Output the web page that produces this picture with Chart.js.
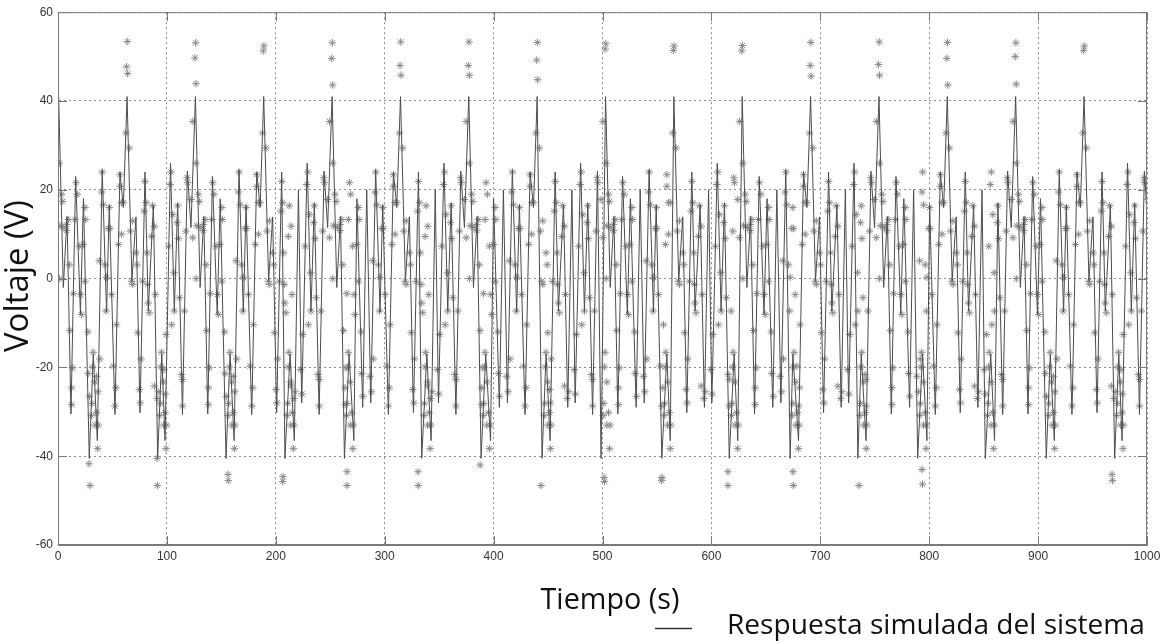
<!DOCTYPE html>
<html>
<head>
<meta charset="utf-8">
<title>Respuesta simulada del sistema</title>
<script src="https://cdn.jsdelivr.net/npm/chart.js@4.4.1/dist/chart.umd.min.js"></script>
<style>
  html, body { margin: 0; padding: 0; background: #fff; }
  #wrap { width: 1166px; height: 643px; }
</style>
</head>
<body>
<div id="wrap"><canvas id="chart" width="1166" height="643"></canvas></div>
<script>
// ---- data ----
// times (s) of the big +41 V spikes (one per cycle of the response)
const peakTimes = [0.6, 63.4, 126.2, 188.9, 251.7, 314.5, 377.2, 440, 502.8, 565.5, 628.3, 691.1, 753.9, 816.6, 879.4, 942.2];

// simulated response inside one cycle: turning points (peak, trough, peak, ...),
// offset from the spike (s) and value (V); two neighbouring cycles were read, they alternate
const cycleA_t = [0, 4.3, 7.7, 11.3, 15.6, 20, 22.8, 28.1, 31.8, 35.5, 40, 44, 46.5, 51.7, 56.3, 59.4];
const cycleA_v = [41, -2, 14, -30.5, 23, -8, 18, -29, 20, -28, 24.5, -7.5, 16.6, -30.6, 24, 16];
const cycleB_t = [0, 4.5, 8.2, 11.9, 16.5, 19.5, 24.2, 28.1, 31.9, 34.9, 39.9, 43.4, 46.5, 50.9, 55.4, 58.7];
const cycleB_v = [41, -0.5, 13.9, -30.2, 24, -7.3, 16.6, -29, 20, -28, 26, -7.3, 17, -30.6, 24.2, 11.5];

// the deep "W" dips drift through the cycles: times (s) of the -40 V troughs
const dipTimes = [28.5, 90.9, 156.1, 206.6, 265.4, 330.6, 387.6, 443.5, 501.4, 554.6, 615.2, 674.9, 735.5, 793.4, 851.2, 910.9, 967.9];
const dipShape = [-40.5, -17, -36.5];   // trough, middle peak, second trough (V)

// measured samples (*) inside a cycle, same offsets as the cycles
const starsA_t = [-2.4, 0.5, 0.6, 1.2, 2.7, 3.7, 4.9, 7.3, 7.3, 8.9, 9.8, 10.4, 11.9, 11.9, 12.9, 13.5, 15, 15.9, 17.1, 18.9, 20.2, 21.1, 22.6, 24.2, 24.8, 24.2, 26.8, 27.2, 28.3, 34.8, 36.1, 37.3, 37.9, 39.5, 40.1, 41, 42.5, 43.5, 44, 45.6, 46.5, 47.1, 48.6, 50.2, 51.7, 52.6, 53.2, 55, 56.3, 56.3, 57.8, 57.8, 59.4];
const starsA_v = [35.4, 26, 0, 11.9, 19, 17.4, 11.5, 10.8, 12.2, 13.3, 3.1, -11.7, -24.6, -28.4, -20.1, -3.4, 13.3, 21.6, 19, 7.3, -3.6, -8.1, 7.7, 16, 13.3, -0.6, -12, -21.4, -26.5, -22, -25.5, 4, -18.1, 19.5, 24, 16.6, 3.1, -7.3, 0.3, 11.3, 16, 11.3, -3.6, -19.7, -28.7, -24.6, -10.4, 7.7, 23.4, 20.8, 17.1, 10, 17.1];
const starsB_t = [-1, 2.1, 3, 4.2, 5.2, 5.2, 8.2, 9.2, 9.8, 11.3, 12.2, 12.8, 14.3, 15.8, 16.5, 17.4, 18.3, 18.9, 19.5, 20.4, 22.6, 23.5, 25.1, 25.1, 26, 27.6, 28.6, 33.9, 35.2, 35.9, 38.1, 39.5, 40.4, 41, 41.9, 43.1, 43.4, 45.9, 46.5, 47.1, 48.1, 49.9, 50.9, 50.9, 52.6, 54.1, 55.1, 55.7, 58.7, 60.3];
const starsB_v = [32.8, 29.4, 10.7, -0.6, 13, -1.3, 5.8, 3.1, -12.2, -25, -28, -18.1, -0.6, 15.2, 21.9, 17.1, 5.8, -1.3, -5.5, -7.7, 9.5, 16.4, 11.8, -24.2, -3.6, -27, -25.5, -20.5, -26, -12.6, 7.3, 21.2, 24, -10.4, 14.4, 1.3, -7.3, 12.6, 16.4, 9, -4.3, -21.6, -22.7, -28.7, -7.3, 10.7, 22.7, 21.6, 17.8, 9.2];

// samples around each deep dip, offset from the -40 V trough (s)
const dipStars_t = [2, 2.5, 3, 3.6, 5.3, 5.3, 6.8, 7.7, 8.3];
const dipStars_v = [-30.8, -28.1, -19.9, -16.6, -23.3, -33, -30.2, -38.3, -33];

// samples below the deep dips (time s, value V)
const lowStars_t = [28.5, 29.4, 90.9, 91.2, 156.1, 156.4, 206.6, 206.3, 265.4, 265.4, 330.6, 330.8, 387.6, 443.5, 501.4, 501.8, 554.6, 554.3, 615.2, 615.2, 674.9, 675.2, 735.5, 793.4, 793.8, 967.9, 968.3];
const lowStars_v = [-41.7, -46.6, -40.5, -46.6, -44.1, -45.5, -44.6, -45.7, -43.5, -46.6, -43.5, -46.6, -42, -46.6, -44.8, -45.7, -44.8, -45.5, -43.5, -46.6, -43.5, -46.6, -46.6, -43, -46.3, -44.1, -45.5];

// samples sitting above each spike (V), one list per spike
const topStars = [[], [53.4, 47.7, 46.2], [53.1, 49.7, 43.9], [52.4, 51.3], [53.1, 49.6, 43.6], [53.3, 48, 45.8], [53.3, 48, 45.8], [53.2, 49.2, 44.8], [52.9, 51.7], [52.4, 51.4], [52.5, 51.3], [53.2, 48, 45.6], [53.3, 48.2, 45.8], [53.2, 49.6, 43.6], [53.1, 50, 43.8], [52.4, 51.4]];

const xTicks = [0, 100, 200, 300, 400, 500, 600, 700, 800, 900, 1000];
const yTicks = [-60, -40, -20, 0, 20, 40, 60];

const yTitle = 'Voltaje (V)';
const xTitle = 'Tiempo (s)';
const legendLabel = 'Respuesta simulada del sistema';

// ---- build the point tables ----
const linePts = [];
const isTrough = [];
const starPts = [];
peakTimes.forEach((t0, i) => {
    const lt = i % 2 ? cycleB_t : cycleA_t;
    const lv = i % 2 ? cycleB_v : cycleA_v;
    lt.forEach((dt, j) => {
        linePts.push({ x: t0 + dt, y: lv[j] });
        isTrough.push(j % 2 === 1);
    });
    const st = i % 2 ? starsB_t : starsA_t;
    const sv = i % 2 ? starsB_v : starsA_v;
    st.forEach((dt, j) => starPts.push({ x: t0 + dt, y: sv[j] }));
    topStars[i].forEach((v, k) => starPts.push({ x: t0 + [0.2, -0.4, 0.5][k], y: v }));
});

// put each deep dip on the trough closest to where it was read
dipTimes.forEach(d => {
    let best = -1, bestDist = Infinity;
    linePts.forEach((p, k) => {
        if (isTrough[k] && Math.abs(p.x - d) < bestDist) { bestDist = Math.abs(p.x - d); best = k; }
    });
    if (best < 0) return;
    linePts[best].y = dipShape[0];
    if (best + 2 < linePts.length && linePts[best + 1].y < 40) {
        linePts[best + 1].y = dipShape[1];
        linePts[best + 2].y = dipShape[2];
    }
    dipStars_t.forEach((dt, j) => starPts.push({ x: linePts[best].x + dt, y: dipStars_v[j] }));
});
lowStars_t.forEach((t, j) => starPts.push({ x: t, y: lowStars_v[j] }));

// ---- box, inner ticks, titles and legend (matlab-like figure) ----
const AREA = { left: 58, top: 12, right: 1147, bottom: 545 };

const fitFont = (ctx, text, family, width) => {
    ctx.font = '100px ' + family;
    return 100 * width / ctx.measureText(text).width;
};

const figureDeco = {
    id: 'figureDeco',
    afterDraw(chart) {
        const { ctx, chartArea: a, scales } = chart;
        ctx.save();
        // frame
        ctx.strokeStyle = '#7a7a7a';
        ctx.lineWidth = 1;
        ctx.setLineDash([]);
        ctx.strokeRect(a.left + 0.5, a.top + 0.5, a.right - a.left - 1, a.bottom - a.top - 1);
        // inward ticks
        ctx.beginPath();
        yTicks.forEach(v => {
            const y = Math.round(scales.y.getPixelForValue(v)) + 0.5;
            ctx.moveTo(a.left, y); ctx.lineTo(a.left + 9, y);
            ctx.moveTo(a.right, y); ctx.lineTo(a.right - 9, y);
        });
        xTicks.forEach(v => {
            const x = Math.round(scales.x.getPixelForValue(v)) + 0.5;
            ctx.moveTo(x, a.bottom); ctx.lineTo(x, a.bottom - 9);
            ctx.moveTo(x, a.top); ctx.lineTo(x, a.top + 9);
        });
        ctx.stroke();

        const fam = '"Open Sans", "DejaVu Sans", sans-serif';
        ctx.fillStyle = '#111';
        ctx.textBaseline = 'middle';
        ctx.textAlign = 'center';
        // y title
        let size = fitFont(ctx, yTitle, fam, 152);
        ctx.font = size + 'px ' + fam;
        ctx.save();
        ctx.translate(19, 276);
        ctx.rotate(-Math.PI / 2);
        ctx.fillText(yTitle, 0, 0);
        ctx.restore();
        // x title
        size = fitFont(ctx, xTitle, fam, 139);
        ctx.font = size + 'px ' + fam;
        ctx.fillText(xTitle, 610, 601);
        // legend
        ctx.strokeStyle = '#333';
        ctx.lineWidth = 1.3;
        ctx.beginPath();
        ctx.moveTo(655, 628.5); ctx.lineTo(692, 628.5);
        ctx.stroke();
        size = fitFont(ctx, legendLabel, fam, 418);
        ctx.font = size + 'px ' + fam;
        ctx.textAlign = 'left';
        ctx.fillText(legendLabel, 727, 626);
        ctx.restore();
    }
};

const tickFont = { family: '"Liberation Sans", Arial, sans-serif', size: 12 };

new Chart(document.getElementById('chart'), {
    type: 'line',
    data: {
        datasets: [
            {
                label: 'Datos medidos',
                data: starPts,
                showLine: false,
                pointStyle: 'star',
                pointRadius: 3.8,
                pointBorderWidth: 1,
                pointBorderColor: '#8a8a8a',
                pointBackgroundColor: '#8a8a8a',
                order: 2
            },
            {
                label: legendLabel,
                data: linePts,
                borderColor: '#4d4d4d',
                borderWidth: 1,
                pointRadius: 0,
                tension: 0,
                order: 1
            }
        ]
    },
    options: {
        responsive: false,
        animation: false,
        devicePixelRatio: 1,
        layout: { padding: { left: 0, top: AREA.top, right: 1166 - AREA.right, bottom: 0 } },
        plugins: {
            legend: { display: false },
            tooltip: { enabled: false }
        },
        scales: {
            x: {
                type: 'linear',
                min: 0,
                max: 1000,
                afterBuildTicks: s => { s.ticks = xTicks.map(v => ({ value: v })); },
                afterFit: s => { s.height = 643 - AREA.bottom; },
                ticks: { color: '#333', font: tickFont, padding: 4, maxRotation: 0, callback: v => String(v) },
                grid: { color: '#8c8c8c', drawTicks: false },
                border: { display: true, color: '#7a7a7a', dash: [2, 3] }
            },
            y: {
                min: -60,
                max: 60,
                afterBuildTicks: s => { s.ticks = yTicks.map(v => ({ value: v })); },
                afterFit: s => { s.width = AREA.left; },
                ticks: { color: '#333', font: tickFont, padding: 5, callback: v => String(v) },
                grid: { color: '#8c8c8c', drawTicks: false },
                border: { display: true, color: '#7a7a7a', dash: [2, 3] }
            }
        }
    },
    plugins: [figureDeco]
});
</script>
</body>
</html>
